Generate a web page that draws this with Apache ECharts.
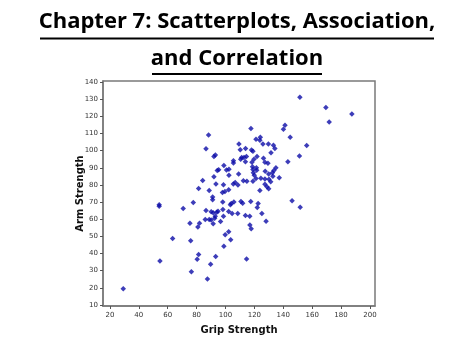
<!DOCTYPE html>
<html>
<head>
<meta charset="utf-8">
<script src="https://cdn.jsdelivr.net/npm/echarts@6/dist/echarts.min.js"></script>
<style>html,body{margin:0;padding:0;background:#fff;}#c{width:474px;height:355px;}</style>
</head>
<body>
<div id="c"></div>
<script>
const titleLines = ['Chapter 7: Scatterplots, Association,', 'and Correlation'];
const xName = 'Grip Strength';
const yName = 'Arm Strength';
const xTicks = [20, 40, 60, 80, 100, 120, 140, 160, 180, 200];
const yTicks = [10, 20, 30, 40, 50, 60, 70, 80, 90, 100, 110, 120, 130, 140];
const gripStrength = [
  88.3, 86.5, 92.0, 93.0, 151.5, 169.5, 187.5, 171.8, 117.6, 141.2, 140.1, 144.8, 121.1, 123.8, 124.1,
  109.3, 125.9, 129.7, 133.2, 134.2, 156.2, 110.2, 113.9, 118.0, 119.0, 131.5, 151.2, 111.2, 112.8, 114.5,
  121.8, 119.7, 118.3, 126.3, 105.5, 105.5, 110.5, 113.8, 127.3, 129.4, 143.2,
  98.9, 94.3, 95.3, 100.7, 102.4, 102.4, 92.0, 84.2, 93.4, 98.6, 81.4, 88.7, 97.9, 99.6, 102.2,
  118.7, 121.4, 119.0, 121.6, 134.9, 133.5, 132.5, 127.5, 129.9, 119.3, 119.9, 109.1, 137.2,
  112.4, 114.8, 119.0, 121.1, 124.5, 127.3, 130.1, 132.8, 131.3, 105.4, 106.7, 108.6, 127.3, 128.7, 123.8, 129.9,
  91.1, 91.1, 98.1, 54.1, 54.1, 77.7, 70.7, 86.5, 90.1, 91.5, 93.9, 94.8, 98.2, 102.2, 92.9, 92.5,
  86.0, 88.7, 90.1, 98.6, 75.4, 82.0, 91.5, 96.6, 80.9, 102.2, 99.8, 63.4, 75.9, 98.9, 81.4, 80.4, 93.2,
  54.6, 89.7, 76.4, 87.5, 29.2, 146.1, 151.7, 104.0, 103.4, 105.8, 110.7, 111.9, 117.5, 122.6, 122.0, 125.2,
  104.6, 108.5, 113.8, 116.8, 128.1, 116.9, 117.8, 103.6, 114.6
];
const armStrength = [
  109.1, 101.1, 96.6, 97.4, 131.1, 125.1, 121.4, 116.7, 112.9, 114.8, 112.4, 107.8, 106.6, 106.0, 107.8,
  103.9, 103.9, 103.9, 103.1, 101.2, 103.0, 100.5, 101.2, 100.4, 99.6, 98.7, 96.9, 96.0, 96.0, 96.6,
  96.6, 95.0, 93.2, 95.6, 94.1, 92.8, 95.0, 93.5, 93.2, 92.7, 93.5,
  91.4, 88.4, 88.8, 88.7, 89.2, 85.7, 84.7, 82.6, 80.6, 80.1, 77.9, 76.8, 75.6, 76.1, 77.2,
  90.6, 90.0, 89.0, 88.6, 90.0, 88.4, 87.1, 88.0, 86.4, 87.1, 85.6, 86.4, 84.2,
  82.5, 82.2, 82.2, 83.8, 83.9, 83.5, 83.3, 85.1, 81.8, 80.6, 81.4, 79.9, 80.4, 79.0, 76.7, 77.8,
  73.0, 71.4, 70.0, 68.5, 67.5, 69.8, 66.3, 65.1, 64.3, 63.8, 64.1, 64.7, 65.6, 64.5, 61.8, 60.6,
  59.9, 59.9, 59.5, 61.8, 57.7, 57.7, 57.3, 58.7, 55.4, 52.7, 51.0, 48.8, 47.4, 44.2, 39.5, 36.6, 38.3,
  35.6, 33.7, 29.4, 25.1, 19.5, 70.8, 67.0, 69.2, 68.4, 70.0, 70.4, 69.3, 70.4, 69.1, 66.8, 63.3,
  63.3, 63.3, 62.1, 61.7, 58.8, 56.7, 54.5, 48.0, 36.8
];

const points = gripStrength.map((g, i) => [g, armStrength[i]]);
const chart = echarts.init(document.getElementById('c'), null, {renderer: 'canvas'});
chart.setOption({
  animation: false,
  backgroundColor: '#ffffff',
  title: [
    {text: titleLines[0], left: 'center', top: 6,
     textStyle: {fontFamily: '"Open Sans", "Noto Sans", sans-serif', fontWeight: 'bold', fontSize: 22, color: '#000'}},
    {text: titleLines[1], left: 'center', top: 43,
     textStyle: {fontFamily: '"Open Sans", "Noto Sans", sans-serif', fontWeight: 'bold', fontSize: 22, color: '#000'}}
  ],
  graphic: [
    {type: 'line', shape: {x1: 40, y1: 38.5, x2: 434, y2: 38.5}, style: {stroke: '#000', lineWidth: 2}},
    {type: 'line', shape: {x1: 152, y1: 74, x2: 322, y2: 74}, style: {stroke: '#000', lineWidth: 2}}
  ],
  grid: {left: 103, right: 99, top: 81, bottom: 49, show: true, borderColor: '#7a7a7a', borderWidth: 1.5, backgroundColor: '#fff'},
  xAxis: {
    type: 'value', min: 15.2, max: 203.5,
    name: xName, nameLocation: 'middle', nameGap: 19,
    nameTextStyle: {fontFamily: '"DejaVu Sans", sans-serif', fontWeight: 'bold', fontSize: 10, color: '#111'},
    axisLine: {show: true, lineStyle: {color: '#7a7a7a', width: 1.5}},
    axisTick: {show: true, length: 3, customValues: xTicks, lineStyle: {color: '#555'}},
    axisLabel: {customValues: xTicks, fontSize: 7, color: '#333', margin: 6, fontFamily: '"DejaVu Sans", sans-serif'},
    splitLine: {show: false}
  },
  yAxis: {
    type: 'value', min: 9.4, max: 140.6,
    name: yName, nameLocation: 'middle', nameGap: 18, nameRotate: 90, nameMoveOverlap: false,
    nameTextStyle: {fontFamily: '"DejaVu Sans", sans-serif', fontWeight: 'bold', fontSize: 10, color: '#111'},
    axisLine: {show: true, lineStyle: {color: '#7a7a7a', width: 1.5}},
    axisTick: {show: true, length: 3, customValues: yTicks, lineStyle: {color: '#555'}},
    axisLabel: {customValues: yTicks, fontSize: 7, color: '#333', margin: 5, fontFamily: '"DejaVu Sans", sans-serif'},
    splitLine: {show: false}
  },
  series: [{
    type: 'scatter',
    data: points,
    symbol: 'diamond',
    symbolSize: 5.5,
    itemStyle: {color: '#0c0ca8'}
  }]
});
</script>
</body>
</html>
